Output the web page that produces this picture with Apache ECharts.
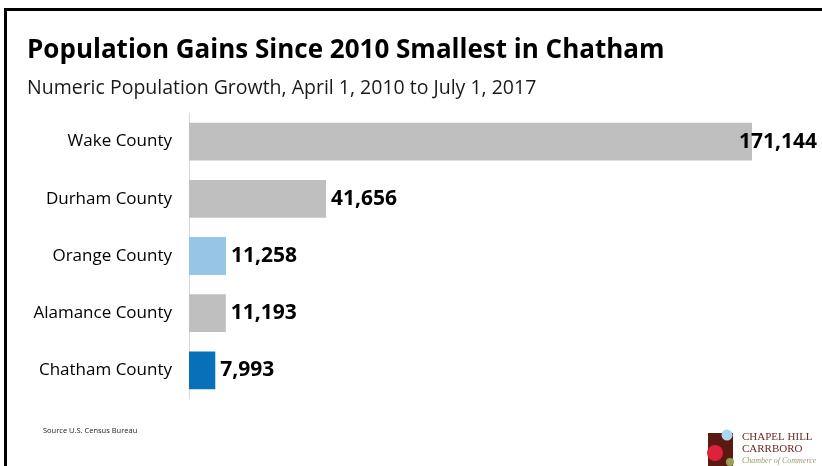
<!DOCTYPE html>
<html><head><meta charset="utf-8">
<script src="https://cdn.jsdelivr.net/npm/echarts@6/dist/echarts.min.js"></script>
<style>html,body{margin:0;padding:0;background:#fff}#c{width:822px;height:466px}</style>
</head><body><div id="c"></div>
<script>
const categories = ["Wake County", "Durham County", "Orange County", "Alamance County", "Chatham County"];
const growth = [171144, 41656, 11258, 11193, 7993];
const barColors = ["#BFBFBF", "#BFBFBF", "#97C5E6", "#BFBFBF", "#0870B8"];
const titleText = "Population Gains Since 2010 Smallest in Chatham";
const subtitleText = "Numeric Population Growth, April 1, 2010 to July 1, 2017";
const sourceText = "Source U.S. Census Bureau";

const FONT = "Open Sans";
const chart = echarts.init(document.getElementById('c'), null, {renderer: 'canvas'});
chart.setOption({
  animation: false,
  backgroundColor: '#fff',
  title: [
    {text: titleText, left: 22, top: 33, textStyle: {fontFamily: FONT, fontSize: 26, fontWeight: 'bold', color: '#000'}},
    {text: subtitleText, left: 22, top: 73, textStyle: {fontFamily: FONT, fontSize: 19.5, fontWeight: 'normal', color: '#1a1a1a'}},
    {text: sourceText, left: 38, top: 422, textStyle: {fontFamily: FONT, fontSize: 7.5, fontWeight: 'normal', color: '#222'}}
  ],
  grid: {left: 189, right: 70, top: 113, bottom: 67, containLabel: false},
  xAxis: {type: 'value', min: 0, max: 171144, show: false},
  yAxis: {
    type: 'category', data: categories, inverse: true,
    axisLine: {show: true, lineStyle: {color: '#D9D9D9', width: 1}},
    axisTick: {show: false},
    axisLabel: {fontFamily: FONT, fontSize: 17, color: '#000', margin: 17}
  },
  series: [{
    type: 'bar',
    data: growth.map((v, i) => ({
      value: v,
      itemStyle: {color: barColors[i]},
      label: i === 0 ? {offset: [-18, 0]} : {}
    })),
    barWidth: '66%',
    label: {
      show: true, position: 'right', distance: 5,
      fontFamily: FONT, fontSize: 21, fontWeight: 'bold', color: '#000',
      formatter: p => p.value.toLocaleString('en-US')
    }
  }],
  graphic: [
    {type: 'rect', shape: {x: 4, y: 8, width: 3, height: 458}, style: {fill: '#000'}, z: 10},
    {type: 'rect', shape: {x: 4, y: 8, width: 818, height: 3}, style: {fill: '#000'}, z: 10},
    {type: 'rect', shape: {x: 708, y: 433, width: 25, height: 33}, style: {fill: '#5A1A12'}},
    {type: 'circle', shape: {cx: 715, cy: 453, r: 8}, style: {fill: '#E0213A'}},
    {type: 'circle', shape: {cx: 727, cy: 435, r: 5.5}, style: {fill: '#A9D8F0'}},
    {type: 'circle', shape: {cx: 730, cy: 462, r: 4}, style: {fill: '#9AA05A'}},
    {type: 'text', left: 742, top: 432, style: {text: 'CHAPEL HILL', font: '11px "Liberation Serif"', fill: '#6B2A22'}},
    {type: 'text', left: 742, top: 444, style: {text: 'CARRBORO', font: '11px "Liberation Serif"', fill: '#6B2A22'}},
    {type: 'text', left: 742, top: 457, style: {text: 'Chamber of Commerce', font: 'italic 8px "Liberation Serif"', fill: '#9A9A6A'}}
  ]
});
</script></body></html>
